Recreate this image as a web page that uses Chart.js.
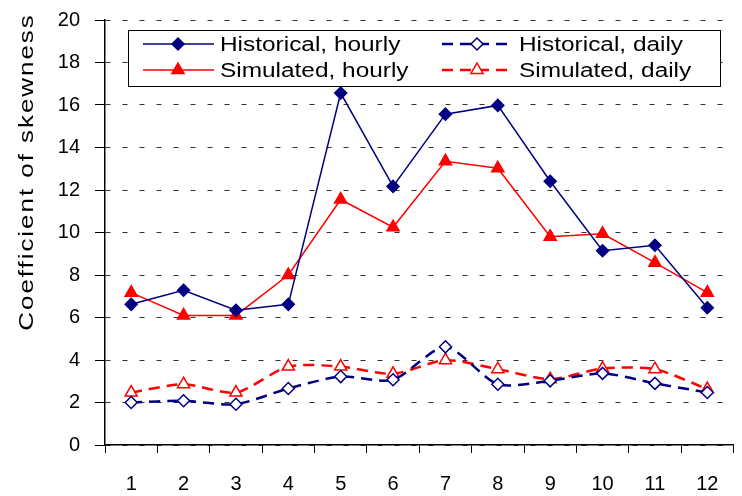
<!DOCTYPE html>
<html>
<head>
<meta charset="utf-8">
<script src="https://cdn.jsdelivr.net/npm/chart.js@4.4.0/dist/chart.umd.min.js"></script>
<style>
html, body { margin: 0; padding: 0; background: #fff; overflow: hidden; }
#wrap { position: relative; width: 742px; height: 496px; }
</style>
</head>
<body>
<div id="wrap"><canvas id="myChart"></canvas></div>
<script>
var months = ['1', '2', '3', '4', '5', '6', '7', '8', '9', '10', '11', '12'];
var histHourly = [6.62, 7.28, 6.34, 6.62, 16.56, 12.17, 15.57, 15.98, 12.41, 9.14, 9.40, 6.46];
var simHourly  = [7.17, 6.10, 6.10, 8.00, 11.55, 10.25, 13.35, 13.02, 9.80, 9.94, 8.58, 7.17];
var histDaily  = [2.00, 2.08, 1.92, 2.66, 3.22, 3.07, 4.62, 2.86, 3.02, 3.37, 2.90, 2.47];
var simDaily   = [2.47, 2.86, 2.47, 3.69, 3.69, 3.35, 3.99, 3.57, 3.10, 3.60, 3.57, 2.63];
var seriesNames = ['Historical, hourly', 'Simulated, hourly', 'Historical, daily', 'Simulated, daily'];
var yMin = 0, yMax = 20, yStep = 2;
var yTitle = 'Coefficient of skewness';

var NAVY = '#000080';
var RED = '#ff0000';
var FONT = '"Liberation Sans", Arial, sans-serif';

function marker(ctx, shape, x, y, r, fill, stroke) {
  ctx.beginPath();
  if (shape == 'rectRot') {
    ctx.moveTo(x, y - r); ctx.lineTo(x + r, y); ctx.lineTo(x, y + r); ctx.lineTo(x - r, y);
  } else {
    ctx.moveTo(x, y - r);
    ctx.lineTo(x + r * 0.866, y + r / 2);
    ctx.lineTo(x - r * 0.866, y + r / 2);
  }
  ctx.closePath();
  ctx.fillStyle = fill; ctx.fill();
  ctx.lineWidth = 1.5; ctx.strokeStyle = stroke; ctx.stroke();
}

function wideText(ctx, txt, x, y, sx) {
  ctx.save();
  ctx.translate(x, y);
  ctx.scale(sx, 1);
  ctx.fillText(txt, 0, 0);
  ctx.restore();
}

// legend box + rotated axis title, drawn on top
var extras = {
  id: 'extras',
  afterDraw: function (chart) {
    var ctx = chart.ctx;
    ctx.save();
    ctx.fillStyle = '#fff';
    ctx.fillRect(128, 30, 593, 56);
    ctx.strokeStyle = '#000'; ctx.lineWidth = 1;
    ctx.strokeRect(128.5, 30.5, 592, 56);

    var cols = [143, 442];
    var rows = [44, 70];
    var order = [[0, 0, 0], [1, 0, 1], [2, 1, 0], [3, 1, 1]];
    order.forEach(function (o) {
      var ds = chart.data.datasets[o[0]];
      var x0 = cols[o[1]], y = rows[o[2]];
      ctx.save();
      ctx.strokeStyle = ds.borderColor;
      ctx.lineWidth = ds.borderWidth;
      ctx.setLineDash(ds.borderDash || []);
      ctx.beginPath(); ctx.moveTo(x0, y); ctx.lineTo(x0 + 71, y); ctx.stroke();
      ctx.setLineDash([]);
      marker(ctx, ds.pointStyle, x0 + 35, y, ds.pointRadius, ds.pointBackgroundColor, ds.pointBorderColor);
      ctx.restore();
      ctx.fillStyle = '#000';
      ctx.font = '20px ' + FONT;
      ctx.textAlign = 'left'; ctx.textBaseline = 'middle';
      wideText(ctx, seriesNames[o[0]], x0 + 77, y + 1, 1.22);
    });

    ctx.translate(27, 172);
    ctx.rotate(-Math.PI / 2);
    ctx.fillStyle = '#000';
    ctx.font = '20px ' + FONT;
    ctx.textAlign = 'center'; ctx.textBaseline = 'middle';
    ctx.letterSpacing = '1.5px';
    wideText(ctx, yTitle, 0, 0, 1.3);
    ctx.restore();
  }
};

function lineSet(i, data, color, shape, r, open) {
  return {
    label: seriesNames[i],
    data: data,
    borderColor: color,
    borderWidth: open ? 2.5 : 1.5,
    borderDash: open ? [11, 7] : [],
    tension: open ? 0.25 : 0,
    pointStyle: shape,
    pointRadius: r,
    pointBorderWidth: 1.5,
    pointBackgroundColor: open ? '#fff' : color,
    pointBorderColor: color
  };
}

function createChart() {
  var ctx = document.getElementById('myChart');
  new Chart(ctx, {
    type: 'line',
    data: {
      labels: months,
      datasets: [
        lineSet(0, histHourly, NAVY, 'rectRot', 6, false),
        lineSet(1, simHourly, RED, 'triangle', 7, false),
        lineSet(2, histDaily, NAVY, 'rectRot', 6, true),
        lineSet(3, simDaily, RED, 'triangle', 7, true)
      ]
    },
    options: {
      responsive: true,
      maintainAspectRatio: false,
      animation: false,
      events: [],
      layout: { padding: { top: 20, right: 0, left: 0, bottom: 0 } },
      plugins: { legend: { display: false }, tooltip: { enabled: false } },
      scales: {
        x: {
          offset: true,
          afterFit: function (s) { s.height = 51; s.paddingLeft = 0; s.paddingRight = 0; },
          grid: { offset: true, drawOnChartArea: false, tickLength: 8, color: '#000' },
          border: { color: '#000', width: 1.5 },
          ticks: { color: '#000', font: { family: FONT, size: 20 }, padding: 19, maxRotation: 0 }
        },
        y: {
          min: yMin, max: yMax,
          afterFit: function (s) { s.width = 105; s.paddingTop = 0; s.paddingBottom = 0; },
          grid: { color: '#333', tickColor: '#000', tickLength: 10 },
          border: { color: '#000', width: 1.5, dash: [5, 12] },
          ticks: { stepSize: yStep, color: '#000', font: { family: FONT, size: 20 }, padding: 15 }
        }
      }
    },
    plugins: [extras]
  });
}

window.onload = createChart;
</script>
</body>
</html>
